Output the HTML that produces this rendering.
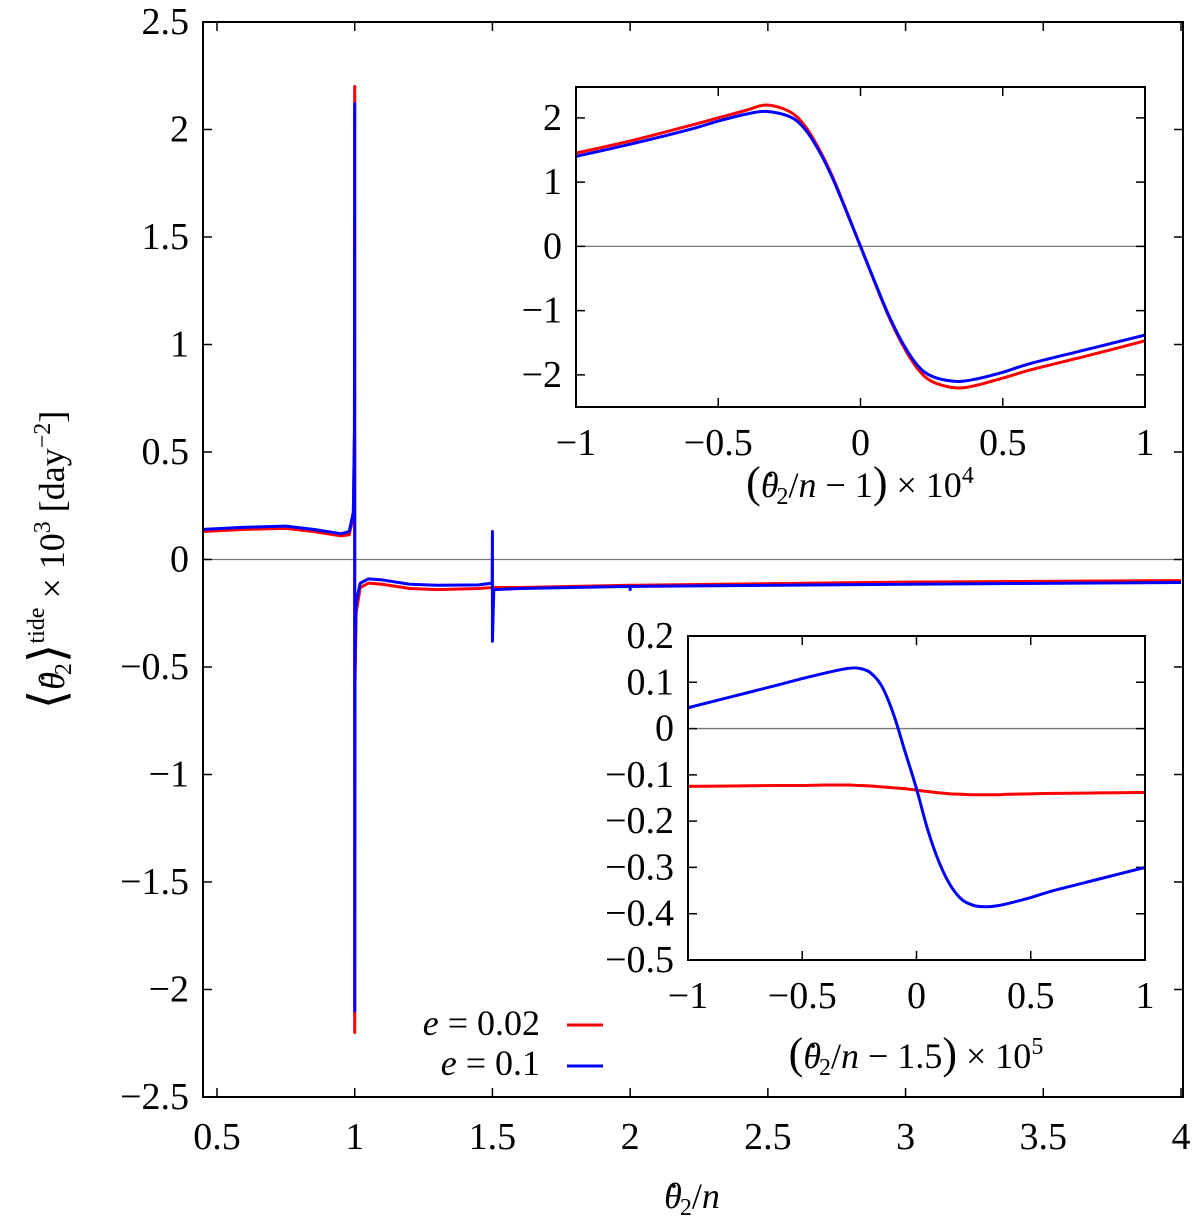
<!DOCTYPE html>
<html><head><meta charset="utf-8"><style>
body{margin:0;background:#fff;}
svg text{font-family:"Liberation Serif",serif;fill:#000;}
</style></head><body>
<svg id="chart" width="1200" height="1226" xmlns="http://www.w3.org/2000/svg">
<g id="main"></g>
<g id="in1"></g>
<g id="in2"></g>
<g transform="translate(64,560) rotate(-90)">
<text x="0" y="0" text-anchor="middle" font-size="36"><tspan font-size="50">⟨</tspan><tspan font-style="italic">θ</tspan><tspan dx="-15">¨</tspan><tspan font-size="24" dy="7">2</tspan><tspan font-size="50" dy="-7">⟩</tspan><tspan font-size="24" dy="-20">tide</tspan><tspan dy="20"> × 10</tspan><tspan font-size="24" dy="-14">3</tspan><tspan dy="14"> [day</tspan><tspan font-size="24" dy="-14">−2</tspan><tspan dy="14">]</tspan></text>
</g>
<text x="692" y="1208" text-anchor="middle" font-size="36"><tspan font-style="italic">θ</tspan><tspan dx="-14">˙</tspan><tspan font-size="24" dy="7">2</tspan><tspan dy="-7">/</tspan><tspan font-style="italic">n</tspan></text>
<text x="860" y="497" text-anchor="middle" font-size="36"><tspan font-size="44">(</tspan><tspan font-style="italic">θ</tspan><tspan dx="-14">˙</tspan><tspan font-size="24" dy="7">2</tspan><tspan dy="-7">/</tspan><tspan font-style="italic">n</tspan> − 1<tspan font-size="44">)</tspan> × 10<tspan font-size="24" dy="-14">4</tspan></text>
<text x="916" y="1068" text-anchor="middle" font-size="36"><tspan font-size="44">(</tspan><tspan font-style="italic">θ</tspan><tspan dx="-14">˙</tspan><tspan font-size="24" dy="7">2</tspan><tspan dy="-7">/</tspan><tspan font-style="italic">n</tspan> − 1.5<tspan font-size="44">)</tspan> × 10<tspan font-size="24" dy="-14">5</tspan></text>
<g>
<text x="540" y="1035" text-anchor="end" font-size="36"><tspan font-style="italic">e</tspan> = 0.02</text>
<line x1="567" y1="1025" x2="603" y2="1025" stroke="#f00" stroke-width="3"/>
<text x="540" y="1075" text-anchor="end" font-size="36"><tspan font-style="italic">e</tspan> = 0.1</text>
<line x1="567" y1="1066" x2="603" y2="1066" stroke="#00f" stroke-width="3"/>
</g>
</svg>
<script>
// main plot data
const mainXTicks=[0.5,1,1.5,2,2.5,3,3.5,4];
const mainYTicks=[-2.5,-2,-1.5,-1,-0.5,0,0.5,1,1.5,2,2.5];
const mainRedX=[0.45,0.6,0.75,0.85,0.95,0.98,0.995,0.999,1,1,1.001,1.005,1.02,1.05,1.1,1.2,1.3,1.45,1.5,1.6,2,3,4];
const mainRedY=[0.13,0.14,0.145,0.13,0.11,0.115,0.2,0.6,2.2,-2.2,-0.6,-0.25,-0.13,-0.11,-0.115,-0.135,-0.14,-0.135,-0.13,-0.13,-0.12,-0.105,-0.098];
const mainBlueX=[0.45,0.6,0.75,0.85,0.95,0.98,0.995,0.999,1,1,1.001,1.005,1.02,1.05,1.1,1.2,1.3,1.45,1.499,1.5,1.5,1.505,1.6,2,2,2,3,4];
const mainBlueY=[0.14,0.15,0.155,0.14,0.12,0.13,0.22,0.6,2.12,-2.1,-0.5,-0.2,-0.11,-0.09,-0.095,-0.115,-0.12,-0.118,-0.11,0.13,-0.38,-0.14,-0.135,-0.125,-0.14,-0.125,-0.115,-0.107];
// inset 1 data
const in1XTicks=[-1,-0.5,0,0.5,1];
const in1YTicks=[-2,-1,0,1,2];
const in1X=[-1,-0.8,-0.6,-0.5,-0.4,-0.33,-0.25,-0.2,-0.15,-0.1,-0.05,0,0.05,0.1,0.15,0.2,0.25,0.33,0.4,0.5,0.6,0.8,1];
const in1Red=[1.45,1.65,1.88,2.0,2.12,2.2,2.1,1.9,1.55,1.1,0.56,0,-0.56,-1.1,-1.55,-1.9,-2.1,-2.2,-2.17,-2.05,-1.92,-1.7,-1.47];
const in1Blue=[1.4,1.6,1.82,1.95,2.06,2.1,2.02,1.85,1.52,1.08,0.55,0,-0.55,-1.08,-1.52,-1.85,-2.02,-2.1,-2.07,-1.96,-1.82,-1.6,-1.38];
// inset 2 data
const in2XTicks=[-1,-0.5,0,0.5,1];
const in2YTicks=[-0.5,-0.4,-0.3,-0.2,-0.1,0,0.1,0.2];
const in2X=[-1,-0.8,-0.6,-0.5,-0.4,-0.3,-0.25,-0.2,-0.15,-0.1,-0.05,0,0.05,0.1,0.15,0.2,0.25,0.3,0.35,0.4,0.5,0.6,0.8,1];
const in2Red=[-0.125,-0.124,-0.123,-0.123,-0.122,-0.122,-0.123,-0.124,-0.126,-0.128,-0.13,-0.133,-0.136,-0.139,-0.141,-0.142,-0.143,-0.143,-0.143,-0.142,-0.141,-0.14,-0.139,-0.138];
const in2Blue=[0.045,0.07,0.095,0.108,0.12,0.13,0.13,0.12,0.09,0.03,-0.05,-0.13,-0.22,-0.29,-0.34,-0.37,-0.382,-0.385,-0.383,-0.378,-0.365,-0.35,-0.325,-0.3];

const NS="http://www.w3.org/2000/svg";
function mk(parent,tag,attrs){const e=document.createElementNS(NS,tag);for(const k in attrs)e.setAttribute(k,attrs[k]);parent.appendChild(e);return e;}
function smoothPath(pts){
  let d='M'+pts[0][0]+','+pts[0][1];
  for(let i=0;i<pts.length-1;i++){
    const p0=pts[Math.max(0,i-1)],p1=pts[i],p2=pts[i+1],p3=pts[Math.min(pts.length-1,i+2)];
    const c1=[p1[0]+(p2[0]-p0[0])/6,p1[1]+(p2[1]-p0[1])/6];
    const c2=[p2[0]-(p3[0]-p1[0])/6,p2[1]-(p3[1]-p1[1])/6];
    d+=`C${c1[0]},${c1[1]} ${c2[0]},${c2[1]} ${p2[0]},${p2[1]}`;
  }
  return d;
}
function panel(g,box,xr,yr,xt,yt,fmt,series,prefix,smooth){
  const sx=v=>box.x0+(v-xr[0])/(xr[1]-xr[0])*(box.x1-box.x0);
  const sy=v=>box.y1-(v-yr[0])/(yr[1]-yr[0])*(box.y1-box.y0);
  const z=mk(g,'line',{x1:box.x0,x2:box.x1,y1:sy(0),y2:sy(0),stroke:'#777','stroke-width':1.3});
  
  
  xt.forEach(v=>{
    const x=sx(v);
    const t=mk(g,'path',{d:`M${x},${box.y1}v-9M${x},${box.y0}v9`,stroke:'#000','stroke-width':1.5});
    
    
    const l=mk(g,'text',{x:x,y:box.y1+box.xl,'text-anchor':'middle','font-size':38});
    l.textContent=fmt(v);
    
    
  });
  yt.forEach(v=>{
    const y=sy(v);
    const t=mk(g,'path',{d:`M${box.x0},${y}h9M${box.x1},${y}h-9`,stroke:'#000','stroke-width':1.5});
    
    
    const l=mk(g,'text',{x:box.x0-box.yl,y:y+12,'text-anchor':'end','font-size':38});
    l.textContent=fmt(v);
    
    
  });
  series.forEach(s=>{
    const pts=s.xs.map((x,i)=>[sx(x),sy(s.ys[i])]);
    const d=smooth?smoothPath(pts):'M'+pts.map(p=>p[0]+','+p[1]).join('L');
    const p=mk(g,'path',{d:d,fill:'none',stroke:s.c,'stroke-width':3,'stroke-linejoin':'round'});
    
    
  });
  const f=mk(g,'rect',{x:box.x0,y:box.y0,width:box.x1-box.x0,height:box.y1-box.y0,fill:'none',stroke:'#000','stroke-width':2});
  
  
}
const fmt=v=>(v<0?'−':'')+String(Math.abs(Math.round(v*100)/100));
panel(document.getElementById('main'),{x0:203,x1:1183,y0:22,y1:1097,xl:52,yl:14},[0.5-(217-203)/(964/3.5),4+(1183-1181)/(964/3.5)],[-2.5,2.5],mainXTicks,mainYTicks,fmt,
 [{xs:mainRedX,ys:mainRedY,c:'#f00',n:'series-e002'},{xs:mainBlueX,ys:mainBlueY,c:'#00f',n:'series-e01'}],'main',false);
const g1=document.getElementById('in1');
mk(g1,'rect',{x:576,y:87,width:569,height:320,fill:'#fff'});
panel(g1,{x0:576,x1:1145,y0:87,y1:407,xl:48,yl:14},[-1,1],[-2.5,2.48],in1XTicks,in1YTicks,fmt,
 [{xs:in1X,ys:in1Red,c:'#f00',n:'series-e002'},{xs:in1X,ys:in1Blue,c:'#00f',n:'series-e01'}],'inset1',true);
const g2=document.getElementById('in2');
mk(g2,'rect',{x:688,y:636,width:457,height:324,fill:'#fff'});
panel(g2,{x0:688,x1:1145,y0:636,y1:960,xl:48,yl:14},[-1,1],[-0.5,0.2],in2XTicks,in2YTicks,fmt,
 [{xs:in2X,ys:in2Red,c:'#f00',n:'series-e002'},{xs:in2X,ys:in2Blue,c:'#00f',n:'series-e01'}],'inset2',true);
</script>
</body></html>
